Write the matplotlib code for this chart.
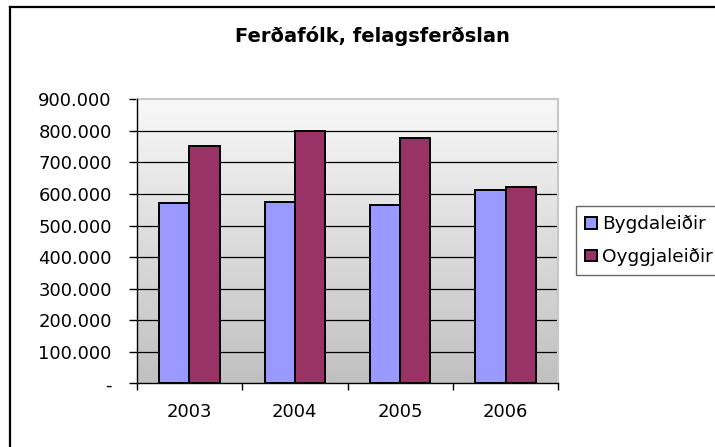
import matplotlib
matplotlib.use("Agg")
import matplotlib.pyplot as plt
import numpy as np
from matplotlib.ticker import FuncFormatter, FixedLocator
from matplotlib.lines import Line2D
from matplotlib.colors import LinearSegmentedColormap

plt.rcParams['font.family'] = ['DejaVu Sans']

years = ['2003', '2004', '2005', '2006']
bygdaleidir = [570000, 575000, 565000, 613000]
oyggjaleidir = [751000, 800000, 778000, 623000]
series_names = ['Bygdaleiðir', 'Oyggjaleiðir']
yticks = [0, 100000, 200000, 300000, 400000, 500000, 600000, 700000, 800000, 900000]
title = 'Ferðafólk, felagsferðslan'

W, H = 715, 447
fig = plt.figure(figsize=(W / 100, H / 100), dpi=100)
fig.patch.set_facecolor('white')

L, R, T, B = 136.7, 558.3, 99.3, 383.3
ax = fig.add_axes([L / W, 1 - B / H, (R - L) / W, (B - T) / H])

# gradient background
grad = np.linspace(0, 1, 256).reshape(-1, 1)
cmap = LinearSegmentedColormap.from_list('g', ['#f8f8f8', '#c0c0c0'])
ax.imshow(grad, aspect='auto', cmap=cmap, extent=(-0.5, 3.5, 0, 900000),
          origin='upper', zorder=0)

x = np.arange(len(years))
bw = 1 / 3.5
b1 = ax.bar(x - bw / 2, bygdaleidir, bw, color='#9999FF', edgecolor='black',
            linewidth=1.4, zorder=3, label=series_names[0])
b2 = ax.bar(x + bw / 2, oyggjaleidir, bw, color='#993366', edgecolor='black',
            linewidth=1.4, zorder=3, label=series_names[1])

for v in yticks[1:-1]:
    ax.axhline(v, color='black', lw=0.9, zorder=1)

ax.set_xlim(-0.5, 3.5)
ax.set_ylim(0, 900000)

ax.yaxis.set_major_locator(FixedLocator(yticks))
def fmt(v, pos):
    if v == 0:
        return '-'
    return f'{int(round(v)):,}'.replace(',', '.')
ax.yaxis.set_major_formatter(FuncFormatter(fmt))

ax.set_xticks(x)
ax.set_xticklabels(years)
ax.set_xticks(np.arange(-0.5, 4.0, 1.0), minor=True)
ax.tick_params(axis='x', which='major', length=0, pad=14.5, labelsize=13)
ax.tick_params(axis='x', which='minor', length=5, width=1, direction='out', color='black')
ax.tick_params(axis='y', which='major', length=6, width=1, direction='out',
               pad=12, labelsize=13, color='black')

for s in ['top', 'right']:
    ax.spines[s].set_color('#c8c8c8')
    ax.spines[s].set_linewidth(1.5)
for s in ['left', 'bottom']:
    ax.spines[s].set_color('black')
    ax.spines[s].set_linewidth(1)
    ax.spines[s].set_zorder(5)

fig.text(372 / W, 1 - 36 / H, title, ha='center', va='center',
         fontsize=14, fontweight='bold')

# outer chart border (left and top visible)
fig.add_artist(Line2D([9.5 / W, 9.5 / W], [0, 1 - 6.5 / H], transform=fig.transFigure,
                      color='black', lw=1.6))
fig.add_artist(Line2D([9.5 / W, 1.0], [1 - 6.5 / H, 1 - 6.5 / H], transform=fig.transFigure,
                      color='black', lw=1.6))

leg = fig.legend(handles=[b1, b2], labels=series_names, loc='upper left',
                 bbox_to_anchor=(576 / W, 1 - 206 / H), frameon=True, fancybox=False,
                 fontsize=13.3, handlelength=0.62, handleheight=0.62, handletextpad=0.3,
                 labelspacing=0.8, borderpad=0.5, borderaxespad=0)
leg.get_frame().set_edgecolor('#404040')
leg.get_frame().set_linewidth(1)

fig.savefig('out.png', dpi=100)
